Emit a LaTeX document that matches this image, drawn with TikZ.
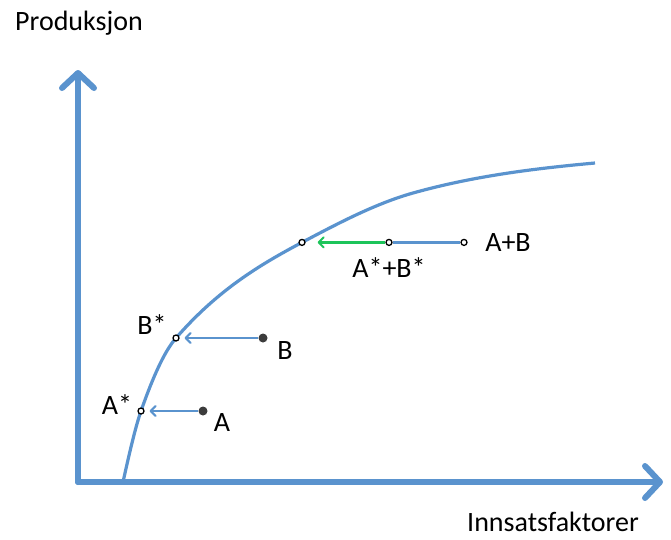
\documentclass[tikz,border=0pt]{standalone}
\usepackage{fontspec}
\setmainfont{Carlito}
\usepackage{tikz}
\usetikzlibrary{arrows.meta,positioning}
\usepackage{xcolor}
\definecolor{AxisBlue}{HTML}{5A93CE}
\definecolor{ShiftGreen}{HTML}{1DC45A}
\definecolor{DotGray}{HTML}{3C3C3C}

\begin{document}
\begin{tikzpicture}[x=1pt,y=-1pt,
    opendot/.style={circle,draw=black,fill=white,line width=1.3pt,inner sep=0pt,minimum size=6pt},
    fulldot/.style={circle,fill=DotGray,inner sep=0pt,minimum size=9pt},
    lbl/.style={font=\fontsize{28}{32}\selectfont,inner sep=0pt},
    axis/.style={AxisBlue,line width=6pt,line cap=round,
      -{Straight Barb[length=15pt,width=32pt,line width=6pt,round]}},
    move/.style={AxisBlue,line width=2.2pt,shorten >=5pt,
      -{Straight Barb[length=5pt,width=10pt,line width=2pt,round]}}]
				\useasboundingbox (0,0) rectangle (671,539);
				% akser
				\coordinate (O) at (78,482);
				\coordinate (ytop) at (78,70);
				\coordinate (xend) at (663,482);
				\draw[axis] (O) -- (ytop);
				\draw[axis] (O) -- (xend);
				\node[lbl] (ylab) at (79,23) {Produksjon};
				\node[lbl] (xlab) at (553,522) {Innsatsfaktorer};
				% produktfunksjon
				\draw[AxisBlue,line width=3.2pt] (123,482)
				  .. controls (129,455) and (135,428.4) .. (141,411)
				  .. controls (152.7,377.6) and (164.3,351.4) .. (176,338)
				  .. controls (218,289.7) and (260,264.7) .. (302,242.4)
				  .. controls (339,222.8) and (376,203.4) .. (413,193)
				  .. controls (473.7,176) and (534.3,168.5) .. (595,163);
				% punkter
				\node[opendot] (Astar) at (141,411) {};
				\node[fulldot] (A) at (203,411) {};
				\node[opendot] (Bstar) at (176,338) {};
				\node[fulldot] (B) at (263,338) {};
				\node[opendot] (P) at (302,242.4) {};
				\node[opendot] (ABstar) at (389,242.4) {};
				\node[opendot] (AB) at (464,242.4) {};
				% etiketter
				\node[lbl] (lAstar) at (117,405) {A*};
				\node[lbl] (lA) at (222,423) {A};
				\node[lbl] (lBstar) at (152,325) {B*};
				\node[lbl] (lB) at (285,351) {B};
				\node[lbl] (lABstar) at (389,268) {A*+B*};
				\node[lbl] (lAB) at (508,243) {A+B};
				% forskyvninger
				\draw[move] (A) -- (Astar);
				\draw[move] (B) -- (Bstar);
				\draw[AxisBlue,line width=2.2pt] (AB) -- (ABstar);
				\draw[move,ShiftGreen,shorten >=12pt] (ABstar) -- (P);
			\end{tikzpicture}
\end{document}
